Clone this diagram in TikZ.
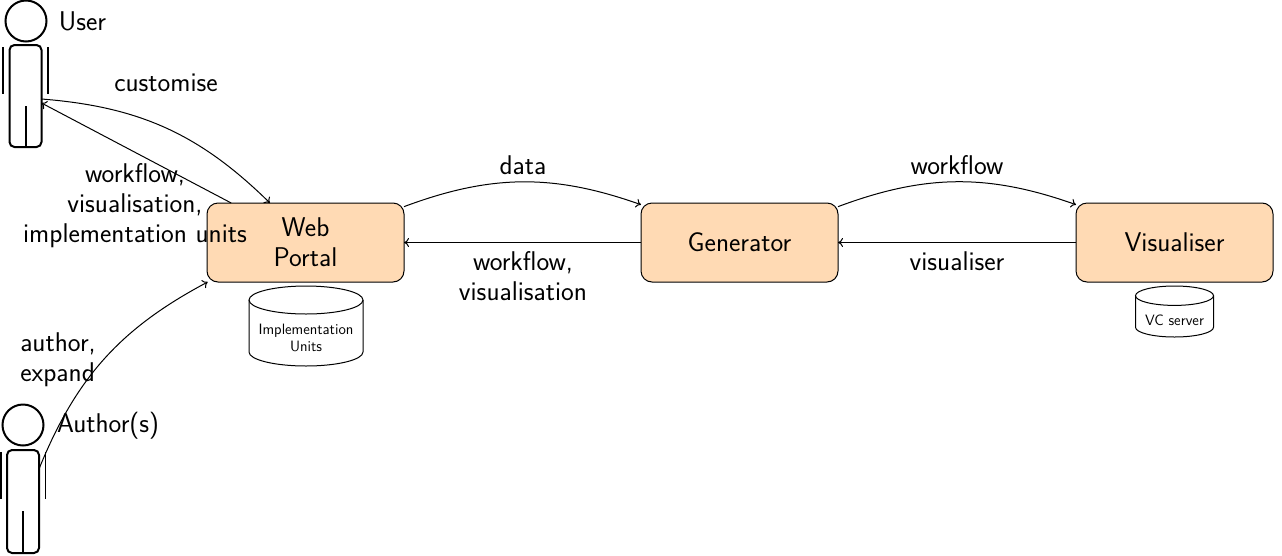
\documentclass[tikz,border=0pt]{standalone}
\usepackage{fontspec}
\usetikzlibrary{arrows.meta}
\definecolor{boxfill}{HTML}{FFDAB4}
\tikzset{
  x=1pt,y=-1pt,
  every node/.style={font=\sffamily\fontsize{27.1}{30}\selectfont,inner sep=0pt,outer sep=0pt},
  link/.style={line width=1pt,-{To[length=5pt,width=9pt]}},
  compbox/.style={draw,line width=1pt,fill=boxfill,rounded corners=11pt,minimum width=197pt,minimum height=79pt,align=center},
  store/.style={line width=1pt},
  storetext/.style={align=center,font=\sffamily\fontsize{15}{17}\selectfont},
  actor/.style={line width=2pt},
  limb/.style={line width=1.6pt},
  lab/.style={align=center}
}
\begin{document}
\begin{tikzpicture}
\useasboundingbox (0,0) rectangle (1282,555);
% User figure
\node[draw,actor,circle,minimum size=41pt] (userhead) at (26,21) {};
\node[draw,actor,rounded corners=5pt,minimum width=32pt,minimum height=102pt] (userbody) at (25.5,96) {};
\draw[limb] (3,47) -- (3,94) (48,47) -- (48,94);
\draw[actor] (25.5,106) -- (userbody.south);
\coordinate (userout) at (41.5,99);
\coordinate (userin) at (41.5,103);
% Author figure
\node[draw,actor,circle,minimum size=41pt] (authhead) at (23,425) {};
\node[draw,actor,rounded corners=5pt,minimum width=32pt,minimum height=103pt] (authbody) at (23,501.5) {};
\draw[limb] (0.7,452) -- (0.7,499) (45.5,452) -- (45.5,499);
\draw[actor] (23,511) -- (authbody.south);
\coordinate (authout) at (39,469);
% Components
\node[compbox] (web) at (305.5,242.5) {Web\\Portal};
\node[compbox] (gen) at (739.5,242.5) {Generator};
\node[compbox] (vis) at (1174.5,242.5) {Visualiser};
% Implementation Units store
\draw[store] (306,300) ellipse [x radius=57,y radius=14];
\draw[store] (249,300) -- (249,352) arc[start angle=180,end angle=0,x radius=57,y radius=14] -- (363,300);
\node[storetext] (units) at (306,337.5) {Implementation\\Units};
% VC server store
\draw[store] (1174.5,295.7) ellipse [x radius=39,y radius=9.7];
\draw[store] (1135.5,295.7) -- (1135.5,327.3) arc[start angle=180,end angle=0,x radius=39,y radius=9.7] -- (1213.5,295.7);
\node[storetext] (vc) at (1174.5,320) {VC server};
% Connectors
\draw[link] (userout) to[bend left=20] (web.132);
\draw[link] (web.152.4) -- (userin);
\draw[link] (authout) to[bend left=20] (web.202.5);
\draw[link] (web.20.3) to[bend left=20] (gen.159.7);
\draw[link] (gen.west) -- (web.east);
\draw[link] (gen.20.3) to[bend left=20] (vis.159.7);
\draw[link] (vis.west) -- (gen.east);
% Labels
\node[lab] (luser) at (82.5,21) {User};
\node[lab] (lauth) at (108,426) {Author(s)};
\node[lab] (lcust) at (166,83) {customise};
\node[lab] (lwork) at (135,205.5) {workflow,\\visualisation,\\implementation units};
\node[lab,align=left] (lexp) at (58,359.5) {author,\\expand};
\node[lab] (ldata) at (523,165) {data};
\node[lab] (lwv) at (523,276.5) {workflow,\\visualisation};
\node[lab] (lwf) at (957,165) {workflow};
\node[lab] (lvis) at (957,261.5) {visualiser};
\end{tikzpicture}
\end{document}
